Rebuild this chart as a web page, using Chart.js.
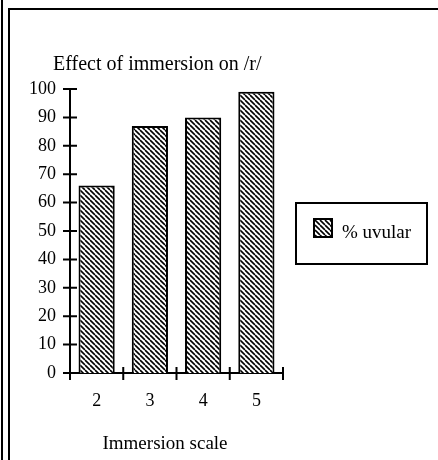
<!DOCTYPE html>
<html>
<head>
<meta charset="utf-8">
<script src="https://cdn.jsdelivr.net/npm/chart.js@4.4.1/dist/chart.umd.min.js"></script>
<style>
  html, body { margin: 0; padding: 0; background: #fff; }
  #wrap { position: relative; width: 438px; height: 460px; }
</style>
</head>
<body>
<div id="wrap"><canvas id="chart" width="438" height="460"></canvas></div>
<script>
// data
const scaleLevels = ['2', '3', '4', '5'];
const uvularPct = [66, 87, 90, 99];
const seriesLabel = '% uvular';
const chartTitle = 'Effect of immersion on /r/';
const xTitle = 'Immersion scale';

const FONT = "'Liberation Serif', 'Times New Roman', serif";

// diagonal hatch like the scanned original
function hatch() {
    const s = 5;
    const c = document.createElement('canvas');
    c.width = s; c.height = s;
    const g = c.getContext('2d');
    g.fillStyle = '#fff';
    g.fillRect(0, 0, s, s);
    g.strokeStyle = '#000';
    g.lineWidth = 1.6;
    for (let k = -1; k <= 1; k++) {
        g.beginPath();
        g.moveTo(k * s, 0);
        g.lineTo(k * s + s, s);
        g.stroke();
    }
    return g.createPattern(c, 'repeat');
}
const pattern = hatch();

// frame, crossing ticks, titles and legend box
const decor = {
    id: 'decor',
    beforeDraw(chart) {
        const ctx = chart.ctx;
        ctx.save();
        ctx.strokeStyle = '#000';
        ctx.lineWidth = 2;
        ctx.beginPath();
        ctx.moveTo(2, 0); ctx.lineTo(2, 460);
        ctx.moveTo(9, 460); ctx.lineTo(9, 9); ctx.lineTo(438, 9);
        ctx.stroke();
        ctx.restore();
    },
    afterDraw(chart) {
        const ctx = chart.ctx;
        const x = chart.scales.x, y = chart.scales.y;
        ctx.save();
        ctx.strokeStyle = '#000';
        ctx.lineWidth = 2;
        ctx.beginPath();
        y.ticks.forEach((t, i) => {
            const py = y.getPixelForTick(i);
            ctx.moveTo(x.left - 7, py); ctx.lineTo(x.left + 7, py);
        });
        for (let i = 0; i <= scaleLevels.length; i++) {
            const px = x.getPixelForValue(i - 0.5);
            ctx.moveTo(px, y.bottom - 6); ctx.lineTo(px, y.bottom + 7);
        }
        ctx.stroke();

        ctx.fillStyle = '#000';
        ctx.font = '20px ' + FONT;
        ctx.textBaseline = 'alphabetic';
        ctx.textAlign = 'left';
        ctx.fillText(chartTitle, 53, 70);
        ctx.font = '19px ' + FONT;
        ctx.textAlign = 'center';
        ctx.fillText(xTitle, 165, 449);

        // legend
        ctx.lineWidth = 2;
        ctx.strokeRect(296, 203, 131, 61);
        ctx.fillStyle = pattern;
        ctx.fillRect(314, 219, 18, 18);
        ctx.lineWidth = 2;
        ctx.strokeRect(314, 219, 18, 18);
        ctx.fillStyle = '#000';
        ctx.textAlign = 'left';
        ctx.textBaseline = 'middle';
        ctx.fillText(seriesLabel, 342, 233);
        ctx.restore();
    }
};

new Chart(document.getElementById('chart'), {
    type: 'bar',
    data: {
        labels: scaleLevels,
        datasets: [{
            label: seriesLabel,
            data: uvularPct,
            backgroundColor: pattern,
            borderColor: '#000',
            borderWidth: 2,
            barPercentage: 0.68,
            categoryPercentage: 1
        }]
    },
    options: {
        responsive: false,
        animation: false,
        layout: { padding: { left: 0, top: 89, right: 155, bottom: 47 } },
        plugins: {
            legend: { display: false },
            title: { display: false },
            tooltip: { enabled: false }
        },
        scales: {
            x: {
                grid: { display: false, drawTicks: false },
                border: { display: true, color: '#000', width: 2 },
                ticks: { color: '#000', font: { family: FONT, size: 18 }, padding: 17 },
                afterFit(s) { s.height = 40; }
            },
            y: {
                min: 0,
                max: 100,
                grid: { display: false, drawTicks: false },
                border: { display: true, color: '#000', width: 2 },
                ticks: { stepSize: 10, color: '#000', font: { family: FONT, size: 18 }, padding: 14 },
                afterFit(s) { s.width = 70; }
            }
        }
    },
    plugins: [decor]
});
</script>
</body>
</html>
